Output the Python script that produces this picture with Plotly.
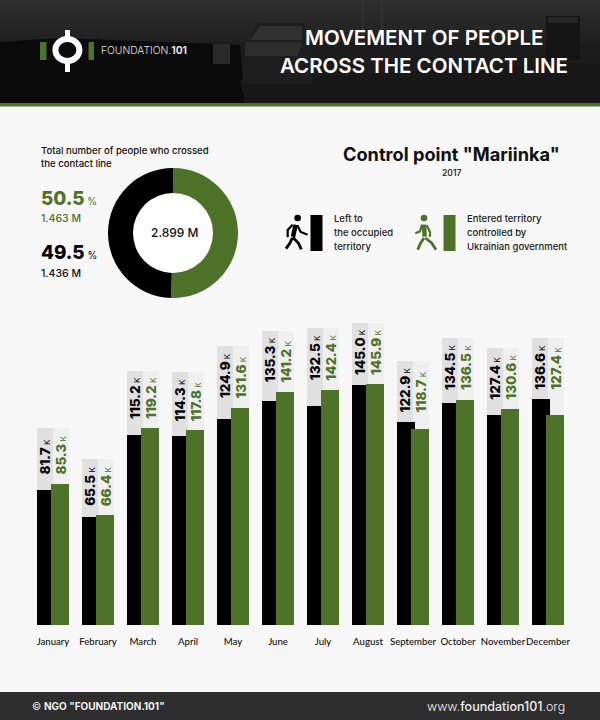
import plotly.graph_objects as go

months = ["January","February","March","April","May","June","July","August","September","October","November","December"]
left_k = [81.7,65.5,115.2,114.3,124.9,135.3,132.5,145.0,122.9,134.5,127.4,136.6]
entered_k = [85.3,66.4,119.2,117.8,131.6,141.2,142.4,145.9,118.7,136.5,130.6,127.4]
band_top_k = [119.2,100.5,153.8,153.1,168.9,178.0,179.8,182.8,159.8,173.7,167.7,173.7]
share_labels = ["Entered", "Left"]
share_millions = [1.463, 1.436]

W, H = 600, 720
BG = "#f7f7f7"; GREEN = "#4d7328"; BLACK = "#000000"
FONT = "Inter"
PX_PER_K = 1.652
BASE_Y = 625
SPACING = 45
CENTER0 = 53

def X(p): return p / W
def Y(p): return 1 - p / H

shapes = []
def rect(x0, y0, x1, y1, color, layer="below"):
    shapes.append(dict(type="rect", xref="paper", yref="paper", x0=X(x0), x1=X(x1), y0=Y(y0), y1=Y(y1),
                       fillcolor=color, line_width=0, layer=layer))
def poly(pts, color, layer="below"):
    path = "M " + " L ".join(f"{X(a):.5f},{Y(b):.5f}" for a, b in pts) + " Z"
    shapes.append(dict(type="path", xref="paper", yref="paper", path=path, fillcolor=color, line_width=0, layer=layer))
def stroke(pts, color, width, layer="above"):
    path = "M " + " L ".join(f"{X(a):.5f},{Y(b):.5f}" for a, b in pts)
    shapes.append(dict(type="path", xref="paper", yref="paper", path=path, line=dict(color=color, width=width), layer=layer))
def oval(cx, cy, rx, ry, color, layer="above", line=None, lw=0):
    shapes.append(dict(type="circle", xref="paper", yref="paper", x0=X(cx-rx), x1=X(cx+rx), y0=Y(cy+ry), y1=Y(cy-ry),
                       fillcolor=color, line=dict(color=line or color, width=lw), layer=layer))

# header photo impression
rect(0, 0, 600, 103, "#1c1c1c")
for i in range(14):
    g = 0x2e - i
    rect(0, i*3, 600, i*3+3, f"#{g:02x}{g:02x}{g:02x}")
poly([(0,42),(60,38),(240,45),(245,103),(0,103)], "#0b0b0b")
poly([(600,62),(600,103),(245,103),(240,80)], "#181818")
poly([(243,83),(243,50),(258,23),(304,23),(312,50),(312,83)], "#1e1e1e")
poly([(250,40),(260,26),(302,26),(302,40)], "#313131")
poly([(245,42),(302,42),(298,56),(245,56)], "#2d2d2d")
rect(213, 44, 230, 64, "#2a2a2a")
poly([(546,16),(580,16),(580,60),(546,60)], "#151515")
rect(548, 17, 578, 23, "#262626")
rect(362, 0, 363.5, 36, "#333333")
rect(381, 0, 382.5, 36, "#333333")
rect(0, 103, 600, 106.5, GREEN)

# logo
rect(40, 42, 46.5, 60, GREEN)
rect(88.5, 42, 94, 60, GREEN)
rect(65, 30, 70, 40, "#ffffff")
rect(65, 60, 70, 72, "#ffffff")
oval(67.4, 50, 12, 11, "rgba(0,0,0,0)", line="#ffffff", lw=6)

# footer
rect(0, 692, 600, 720, "#2e2e2e")
# white hole of donut
oval(173, 233, 40, 40, "#ffffff", layer="below")

# legend swatches
rect(310.5, 215, 322.5, 251, BLACK)
rect(443.5, 215, 455.5, 251, GREEN)

def walker(ox, color, head, torso, arm_a, arm_b, leg_a, leg_b):
    cv = lambda pts: [(ox + a/3, 208 + b/3) for a, b in pts]
    oval(ox + head/3, 218, 3.3, 3.3, color)
    stroke(cv(torso), color, 4.5)
    stroke(cv(arm_a), color, 2.2)
    stroke(cv(arm_b), color, 2.2)
    stroke(cv(leg_a), color, 2.8)
    stroke(cv(leg_b), color, 2.8)
walker(280, BLACK, 53,
       [(47,50),(39,86)],
       [(38,50),(23,66),(23,88)],
       [(52,52),(62,72),(83,80)],
       [(37,90),(30,105),(18,122)],
       [(38,88),(55,105),(64,124)])
walker(410, GREEN, 42,
       [(42,50),(44,86)],
       [(36,50),(30,70),(16,76)],
       [(50,52),(60,72),(60,86)],
       [(42,90),(32,105),(23,125)],
       [(46,90),(65,105),(78,125)])

fig = go.Figure()
x_pos = months
w_band = 16 / SPACING
w_bar = 18 / SPACING
fig.add_bar(x=x_pos, y=band_top_k, width=w_band, offset=-16/SPACING, marker=dict(color="#e0e0e0", line_width=0), showlegend=False, hoverinfo="skip")
fig.add_bar(x=x_pos, y=band_top_k, width=w_band, offset=0, marker=dict(color="#efefef", line_width=0), showlegend=False, hoverinfo="skip")
fig.add_bar(x=x_pos, y=left_k, width=w_bar, offset=-16/SPACING, marker=dict(color=BLACK, line_width=0), name="Left", showlegend=False)
fig.add_bar(x=x_pos, y=entered_k, width=w_bar, offset=-2/SPACING, marker=dict(color=GREEN, line_width=0), name="Entered", showlegend=False)

fig.add_pie(labels=share_labels, values=share_millions, hole=40/65, sort=False, direction="clockwise", rotation=0,
            marker=dict(colors=[GREEN, BLACK], line_width=0), textinfo="none", showlegend=False,
            domain=dict(x=[X(108), X(238)], y=[Y(298), Y(168)]))

ann = []
def text(x, y, s, size, color="#111111", anchor="left", weight=400, family=FONT):
    dx = {"left": -2, "right": 2, "center": 0}[anchor]
    ann.append(dict(xref="paper", yref="paper", x=X(x + dx), y=Y(y), text=s, showarrow=False, xanchor=anchor, yanchor="middle",
                    font=dict(size=size, color=color, family=family, weight=weight), align=anchor))

HEAVY = "font-weight:800"
text(424, 37, "MOVEMENT OF PEOPLE", 20.5, "#ffffff", "center", 600)
text(424, 65, "ACROSS THE CONTACT LINE", 20.5, "#ffffff", "center", 600)
text(100.5, 50.5, "<span style='font-weight:300'>FOUNDATION.</span><b>101</b>", 10.3, "#e0e0e0")
text(41, 150, "Total number of people who crossed", 9.6, "#111111", weight=500)
text(41, 164, "the contact line", 9.6, "#111111", weight=500)
text(41, 198, f"<span style='{HEAVY}'>50.5</span><span style='font-size:10px;font-weight:400'> %</span>", 18.8, GREEN)
text(41, 218, "1.463 M", 10.5, GREEN, weight=500)
text(41, 253, f"<span style='{HEAVY}'>49.5</span><span style='font-size:10px;font-weight:400'> %</span>", 18.8, BLACK)
text(41, 273, "1.436 M", 10.5, "#111111", weight=500)
text(175, 233, "2.899 M", 12, "#111111", "center", 500)
text(451.5, 154, 'Control point "Mariinka"', 18.2, "#111111", "center", 700)
text(452, 173, "2017", 8.7, "#111111", "center", 500)
for i, s in enumerate(["Left to", "the occupied", "territory"]):
    text(333.5, 218.5 + 13.8*i, s, 9.5, "#222222", weight=500)
for i, s in enumerate(["Entered territory", "controlled by", "Ukrainian government"]):
    text(466.5, 218.5 + 13.8*i, s, 9.5, "#222222", weight=500)
text(32, 706, "© <b>NGO \"FOUNDATION.101\"</b>", 10, "#eeeeee", weight=400)
text(564.5, 706, "<span style='font-weight:300'>www.</span><span style='font-weight:500'>foundation101</span><span style='font-weight:300'>.org</span>", 12.5, "#eeeeee", "right")

for i, m in enumerate(months):
    top = max(left_k[i], entered_k[i])
    for val, col, shift in ((left_k[i], BLACK, -8), (entered_k[i], GREEN, 8)):
        ann.append(dict(xref="x", yref="y", x=m, y=top, xshift=shift, yshift=7, textangle=-90, showarrow=False,
                        xanchor="center", yanchor="bottom",
                        text=f"<span style='{HEAVY}'>{val:.1f}</span><span style='font-size:8px;font-weight:400'> K</span>",
                        font=dict(size=13.5, color=col, family=FONT)))

fig.update_layout(
    width=W, height=H, margin=dict(l=0, r=0, t=0, b=0), paper_bgcolor=BG, plot_bgcolor="rgba(0,0,0,0)",
    barmode="overlay", bargap=0, shapes=shapes, annotations=ann,
    xaxis=dict(domain=[0,1], type="category", categoryorder="array", categoryarray=months,
               range=[-CENTER0/SPACING, (W-CENTER0)/SPACING], showgrid=False, zeroline=False, showline=False,
               ticks="outside", ticklen=7, tickcolor="rgba(0,0,0,0)", tickangle=0,
               tickfont=dict(family="Lato", size=9.6, color="#111111", weight=500)),
    yaxis=dict(domain=[Y(BASE_Y),1], range=[0, BASE_Y/PX_PER_K], visible=False),
)
fig.write_html("out.html", config=dict(displayModeBar=False), post_script="document.body.style.margin='0';")
